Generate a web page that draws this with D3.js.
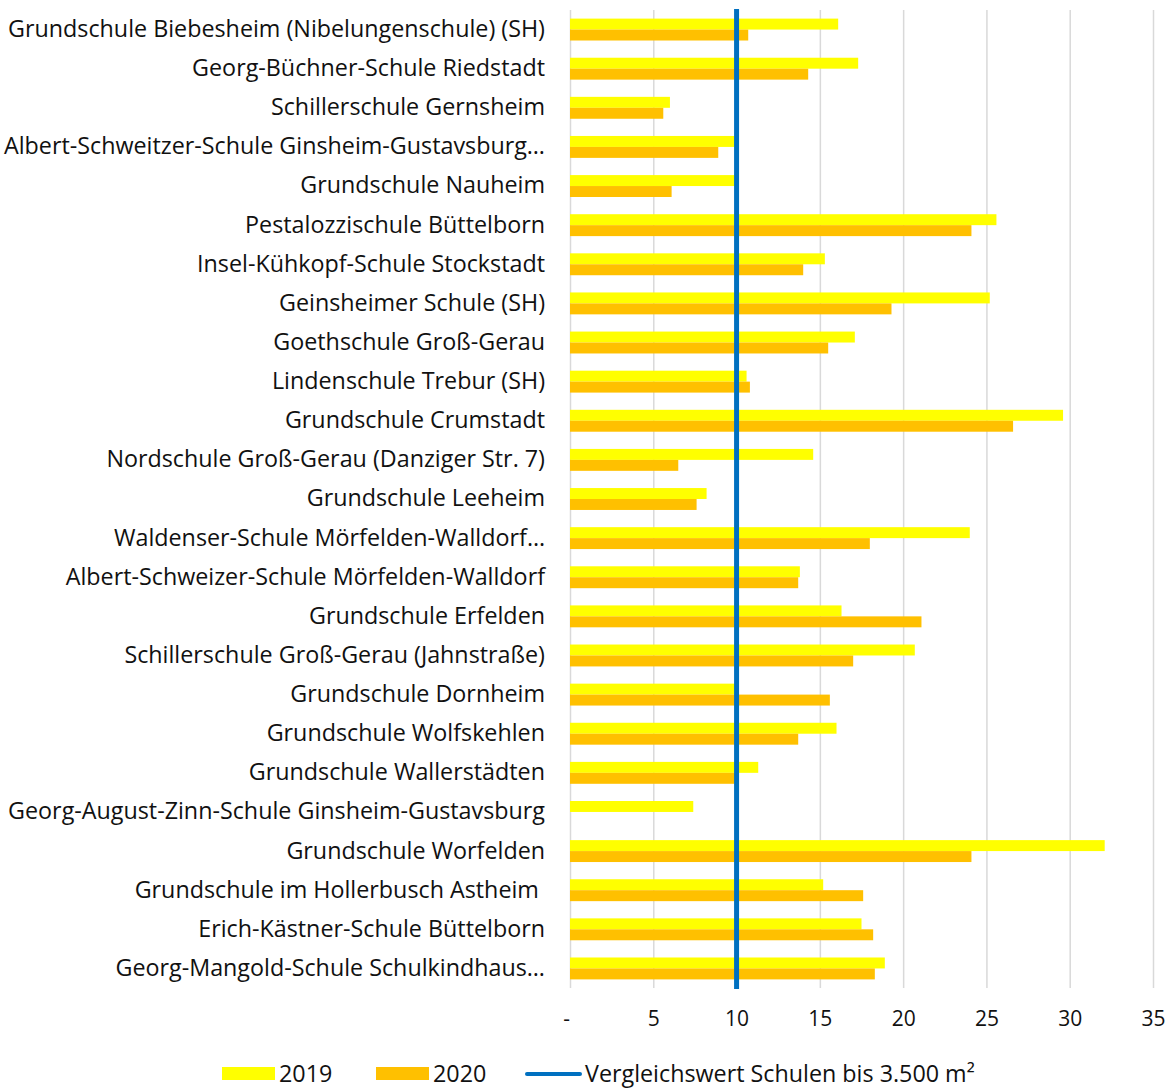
<!DOCTYPE html>
<meta charset="utf-8" />
<style>
  body { margin: 0; background: #fff; }
  text { font-family: 'Open Sans', sans-serif; fill: #111; }
  .cat-label { font-size: 23.3px; white-space: pre; }
  .tick text { font-size: 21px; }
  .legend text { font-size: 23.3px; }
</style>
<body>
  <script src="https://d3js.org/d3.v7.min.js"></script>
  <script>
    // schools, top to bottom
    var categories = [
      'Grundschule Biebesheim (Nibelungenschule) (SH)',
      'Georg-Büchner-Schule Riedstadt',
      'Schillerschule Gernsheim',
      'Albert-Schweitzer-Schule Ginsheim-Gustavsburg…',
      'Grundschule Nauheim',
      'Pestalozzischule Büttelborn',
      'Insel-Kühkopf-Schule Stockstadt',
      'Geinsheimer Schule (SH)',
      'Goethschule Groß-Gerau',
      'Lindenschule Trebur (SH)',
      'Grundschule Crumstadt',
      'Nordschule Groß-Gerau (Danziger Str. 7)',
      'Grundschule Leeheim',
      'Waldenser-Schule Mörfelden-Walldorf…',
      'Albert-Schweizer-Schule Mörfelden-Walldorf',
      'Grundschule Erfelden',
      'Schillerschule Groß-Gerau (Jahnstraße)',
      'Grundschule Dornheim',
      'Grundschule Wolfskehlen',
      'Grundschule Wallerstädten',
      'Georg-August-Zinn-Schule Ginsheim-Gustavsburg',
      'Grundschule Worfelden',
      'Grundschule im Hollerbusch Astheim ',
      'Erich-Kästner-Schule Büttelborn',
      'Georg-Mangold-Schule Schulkindhaus…'
    ];

    var values2019 = [
      16.1, 17.3, 6.0, 9.9, 9.9, 25.6, 15.3, 25.2, 17.1, 10.6,
      29.6, 14.6, 8.2, 24.0, 13.8, 16.3, 20.7, 9.9, 16.0, 11.3,
      7.4, 32.1, 15.2, 17.5, 18.9
    ];
    var values2020 = [
      10.7, 14.3, 5.6, 8.9, 6.1, 24.1, 14.0, 19.3, 15.5, 10.8,
      26.6, 6.5, 7.6, 18.0, 13.7, 21.1, 17.0, 15.6, 13.7, 9.9,
      0, 24.1, 17.6, 18.2, 18.3
    ];

    var xTicks = [0, 5, 10, 15, 20, 25, 30, 35];
    var xTickLabels = ['-', '5', '10', '15', '20', '25', '30', '35'];

    var seriesNames = ['2019', '2020'];
    var seriesColors = ['#FFFF00', '#FFC000'];
    var refValue = 10;
    var refLabel = 'Vergleichswert Schulen bis 3.500 m²';

    var width = 1173, height = 1088;
    var plot = { left: 570, right: 1153, top: 10, bottom: 988 };

    var svg = d3.select('body').append('svg')
      .attr('width', width)
      .attr('height', height);

    var x = d3.scaleLinear().domain([0, 35]).range([plot.left, plot.right]);
    var y = d3.scaleBand().domain(categories)
      .range([plot.top, plot.bottom])
      .paddingInner(0.44).paddingOuter(0.22);
    var ySub = d3.scaleBand().domain(seriesNames).range([0, y.bandwidth()]);

    // vertical gridlines
    svg.append('g')
      .attr('transform', 'translate(0,' + plot.top + ')')
      .call(d3.axisBottom(x).tickValues(xTicks).tickSize(plot.bottom - plot.top).tickFormat(''))
      .call(g => g.select('.domain').remove())
      .call(g => g.selectAll('line').attr('stroke', '#D9D9D9').attr('stroke-width', 1.5));

    // x tick labels
    svg.append('g')
      .attr('transform', 'translate(0,' + plot.bottom + ')')
      .call(d3.axisBottom(x).tickValues(xTicks).tickSize(0)
        .tickFormat((d, i) => xTickLabels[i]))
      .call(g => g.select('.domain').remove())
      .call(g => g.selectAll('text').attr('y', 38).attr('dy', 0)
        .attr('dx', (d) => d === 0 ? -4 : 0));

    // bars
    var rows = categories.map((c, i) => ({ cat: c, vals: [values2019[i], values2020[i]] }));
    var groups = svg.append('g').selectAll('g')
      .data(rows).enter().append('g')
      .attr('transform', d => 'translate(0,' + y(d.cat) + ')');
    groups.selectAll('rect')
      .data(d => d.vals.map((v, j) => ({ key: seriesNames[j], v: v, color: seriesColors[j] })))
      .enter().append('rect')
      .attr('x', x(0))
      .attr('y', d => ySub(d.key))
      .attr('width', d => x(d.v) - x(0))
      .attr('height', ySub.bandwidth())
      .attr('fill', d => d.color);

    // category labels
    svg.append('g').selectAll('text')
      .data(categories).enter().append('text')
      .attr('class', 'cat-label')
      .attr('x', 545)
      .attr('y', d => y(d) + y.bandwidth() / 2)
      .attr('dy', '0.32em')
      .attr('text-anchor', 'end')
      .text(d => d);

    // reference line
    svg.append('line')
      .attr('x1', x(refValue)).attr('x2', x(refValue))
      .attr('y1', plot.top - 1).attr('y2', plot.bottom + 1)
      .attr('stroke', '#0070C0')
      .attr('stroke-width', 5);

    // legend
    var legend = svg.append('g').attr('class', 'legend');
    var legendY = 1074;
    var legendX = [222, 376];
    seriesNames.forEach(function(s, i) {
      legend.append('rect')
        .attr('x', legendX[i]).attr('y', legendY - 7)
        .attr('width', 53).attr('height', 13)
        .attr('fill', seriesColors[i]);
      legend.append('text')
        .attr('x', legendX[i] + 57).attr('y', legendY)
        .attr('dy', '0.35em')
        .text(s);
    });
    legend.append('line')
      .attr('x1', 527).attr('x2', 580)
      .attr('y1', legendY).attr('y2', legendY)
      .attr('stroke', '#0070C0').attr('stroke-width', 4)
      .attr('stroke-linecap', 'round');
    legend.append('text')
      .attr('x', 585).attr('y', legendY)
      .attr('dy', '0.35em')
      .text(refLabel);
  </script>
</body>
